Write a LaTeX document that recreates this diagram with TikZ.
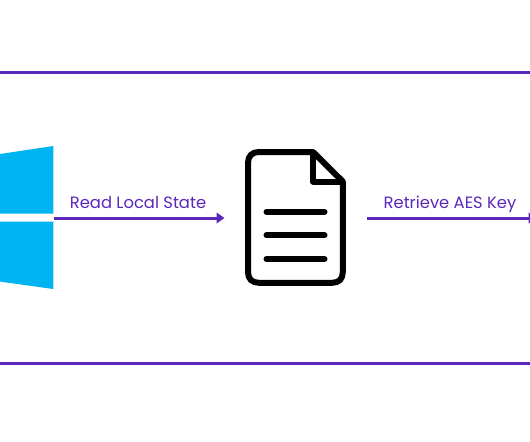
\documentclass[tikz,border=0pt]{standalone}
\usepackage{fontspec}
\setmainfont{Poppins}
\usetikzlibrary{arrows.meta}
\definecolor{vio}{HTML}{5C28BC}
\definecolor{winblue}{HTML}{00B4F1}
\tikzset{
  rule/.style={draw=vio,line width=2.4pt},
  flow/.style={draw=vio,line width=2.4pt,-{Triangle[length=6.4pt,width=8.5pt]}},
  lab/.style={text=vio,font=\fontsize{13.1}{15}\selectfont,inner sep=0pt,anchor=base},
  pane/.style={fill=winblue,draw=none},
  doc/.style={draw=black,line width=4.8pt,line join=round,fill=white},
  txtline/.style={draw=black,line width=4.8pt,line cap=round}
}
\begin{document}
\begin{tikzpicture}[x=0.8pt,y=-0.8pt]
\useasboundingbox (0,0) rectangle (530,442);
\fill[white] (0,0) rectangle (530,442);
% rules
\coordinate (r1a) at (0,72.5); \coordinate (r1b) at (530,72.5);
\coordinate (r2a) at (0,363.5); \coordinate (r2b) at (530,363.5);
\draw[rule] (r1a) -- (r1b);
\draw[rule] (r2a) -- (r2b);
% windows logo
\fill[pane] (0,154) -- (53.3,146) -- (53.3,213.7) -- (0,213.7) -- cycle;
\fill[pane] (0,221.7) -- (53.3,221.7) -- (53.3,289) -- (0,281.6) -- cycle;
% document
\draw[doc] (313,152) -- (259,152) .. controls (252,152) and (248,156) .. (248,163)
  -- (248,272) .. controls (248,279) and (252,282.8) .. (259,282.8)
  -- (332,282.8) .. controls (339,282.8) and (342.8,279) .. (342.8,272)
  -- (342.8,181.5) -- cycle;
\draw[black,line width=4.8pt,line join=round] (313,152) -- (313,181.5) -- (342.8,181.5);
\coordinate (l1a) at (266.5,211.7); \coordinate (l1b) at (324.5,211.7);
\coordinate (l2a) at (266.5,235.3); \coordinate (l2b) at (324.5,235.3);
\coordinate (l3a) at (266.5,259);   \coordinate (l3b) at (324.5,259);
\draw[txtline] (l1a) -- (l1b);
\draw[txtline] (l2a) -- (l2b);
\draw[txtline] (l3a) -- (l3b);
% arrows
\coordinate (a1) at (54,218); \coordinate (a2) at (224.5,218);
\coordinate (b1) at (367,218); \coordinate (b2) at (536.5,218);
\draw[flow] (a1) -- (a2);
\begin{scope}
\clip (0,0) rectangle (530,442);
\draw[flow] (b1) -- (b2);
\end{scope}
\node[lab] (readlabel) at (138,208.8) {Read Local State};
\node[lab] (aeslabel) at (450,208.8) {Retrieve AES Key};
\end{tikzpicture}
\end{document}
